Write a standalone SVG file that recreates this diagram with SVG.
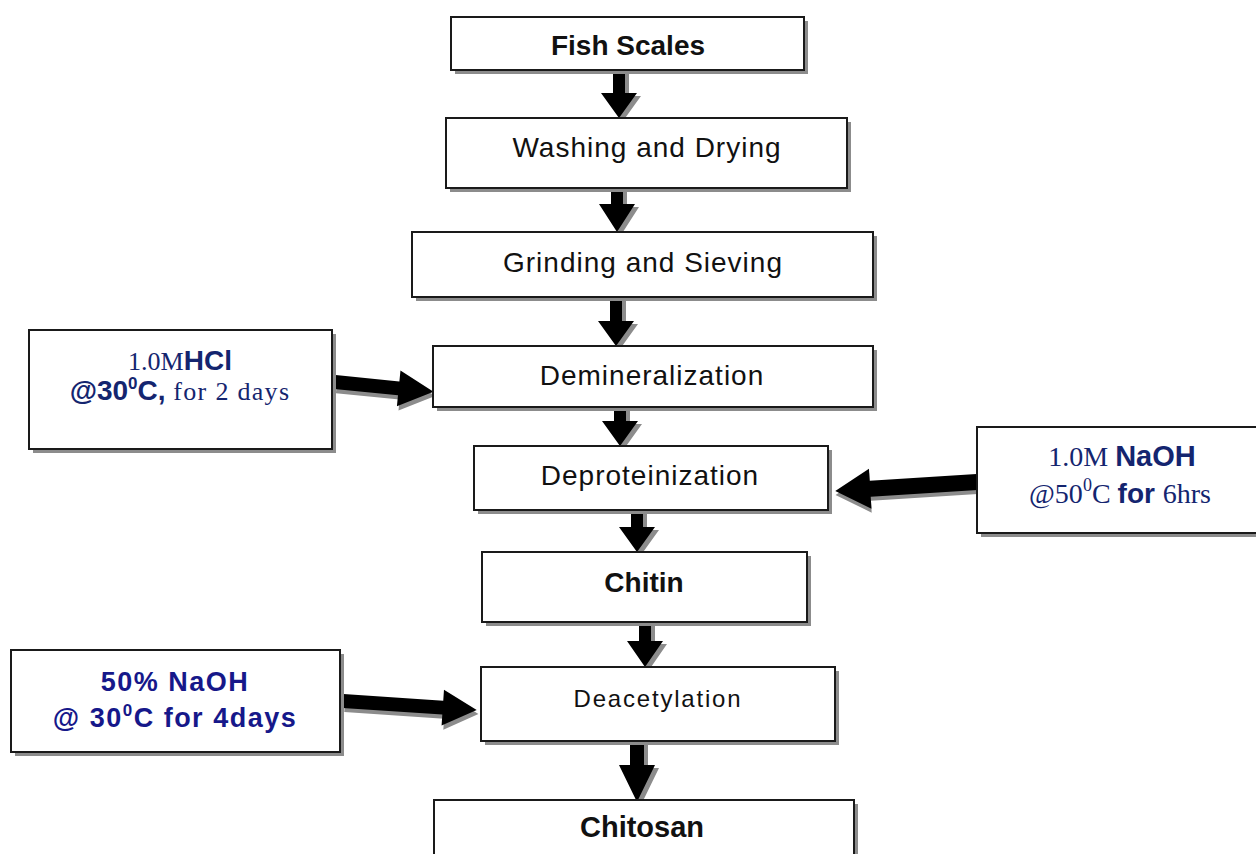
<svg xmlns="http://www.w3.org/2000/svg" width="1256" height="854" viewBox="0 0 1256 854">
<style>
.sh{fill:#8c8c8c}
.bx{fill:#fff;stroke:#1a1a1a;stroke-width:2}
.t{font-family:"Liberation Sans",Arial,sans-serif;font-size:28px;fill:#111;text-anchor:middle;letter-spacing:1px}
.b{font-weight:bold;letter-spacing:0}
.ar{fill:#000}
.as{fill:#8c8c8c}
.nv{fill:#14256f}
.nv2{fill:#16188a}
.sf{font-family:"Liberation Serif","Times New Roman",serif;font-weight:normal}
.ss{font-family:"Liberation Sans",Arial,sans-serif;font-weight:bold}
</style>
<rect width="1256" height="854" fill="#fff"/>
<g id="connectors">
  <g transform="translate(4,3)" class="as">
    <path d="M613,70 H625 V93 H637 L619,118 L601,93 H613 Z"/>
    <path d="M611,188 H623 V204 H635 L617,232 L599,204 H611 Z"/>
    <path d="M610,297 H622 V321 H634 L616,346 L598,321 H610 Z"/>
    <path d="M614,407 H626 V421 H638 L620,446 L602,421 H614 Z"/>
    <path d="M631,510 H643 V527 H655 L637,552 L619,527 H631 Z"/>
    <path d="M639,622 H651 V641 H663 L645,667 L627,641 H639 Z"/>
    <path d="M630,741 H644 V765 H655 L637,802 L619,765 H630 Z"/>
  </g>
  <g class="ar">
    <path d="M613,70 H625 V93 H637 L619,118 L601,93 H613 Z"/>
    <path d="M611,188 H623 V204 H635 L617,232 L599,204 H611 Z"/>
    <path d="M610,297 H622 V321 H634 L616,346 L598,321 H610 Z"/>
    <path d="M614,407 H626 V421 H638 L620,446 L602,421 H614 Z"/>
    <path d="M631,510 H643 V527 H655 L637,552 L619,527 H631 Z"/>
    <path d="M639,622 H651 V641 H663 L645,667 L627,641 H639 Z"/>
    <path d="M630,741 H644 V765 H655 L637,802 L619,765 H630 Z"/>
  </g>
  <g transform="translate(335,382) rotate(5.7)">
    <path class="as" transform="translate(2,4)" d="M0,-7 H64 V-18 L99,0 L64,18 V7 H0 Z"/>
    <path class="ar" d="M0,-7 H64 V-18 L99,0 L64,18 V7 H0 Z"/>
  </g>
  <g transform="translate(977,482) rotate(176.4)">
    <path class="as" transform="translate(0,-4)" d="M0,-8 H107 V-20 L142,0 L107,20 V8 H0 Z"/>
    <path class="ar" d="M0,-8 H107 V-20 L142,0 L107,20 V8 H0 Z"/>
  </g>
  <g transform="translate(343,701) rotate(3.8)">
    <path class="as" transform="translate(2,4)" d="M0,-7 H100 V-18 L134,0 L100,18 V7 H0 Z"/>
    <path class="ar" d="M0,-7 H100 V-18 L134,0 L100,18 V7 H0 Z"/>
  </g>
</g>
<g id="fish-scales">
  <rect class="sh" x="455" y="21" width="353" height="53"/>
  <rect class="bx" x="451" y="17" width="353" height="53"/>
  <text class="t b" x="628" y="55">Fish Scales</text>
</g>
<g id="washing">
  <rect class="sh" x="450" y="122" width="401" height="70"/>
  <rect class="bx" x="446" y="118" width="401" height="70"/>
  <text class="t" x="647" y="157">Washing and Drying</text>
</g>
<g id="grinding">
  <rect class="sh" x="416" y="236" width="461" height="65"/>
  <rect class="bx" x="412" y="232" width="461" height="65"/>
  <text class="t" x="643" y="272">Grinding and Sieving</text>
</g>
<g id="demineralization">
  <rect class="sh" x="437" y="350" width="440" height="61"/>
  <rect class="bx" x="433" y="346" width="440" height="61"/>
  <text class="t" x="652" y="385">Demineralization</text>
</g>
<g id="deproteinization">
  <rect class="sh" x="478" y="450" width="354" height="64"/>
  <rect class="bx" x="474" y="446" width="354" height="64"/>
  <text class="t" x="650" y="485">Deproteinization</text>
</g>
<g id="chitin">
  <rect class="sh" x="486" y="556" width="325" height="70"/>
  <rect class="bx" x="482" y="552" width="325" height="70"/>
  <text class="t b" x="644" y="592">Chitin</text>
</g>
<g id="deacetylation">
  <rect class="sh" x="485" y="671" width="354" height="74"/>
  <rect class="bx" x="481" y="667" width="354" height="74"/>
  <text class="t" x="658" y="707" style="font-size:24px;letter-spacing:1.8px">Deacetylation</text>
</g>
<g id="chitosan">
  <rect class="sh" x="438" y="804" width="420" height="60"/>
  <rect class="bx" x="434" y="800" width="420" height="60"/>
  <text class="t b" x="642" y="837" style="font-size:29px">Chitosan</text>
</g>
<g id="hcl-condition">
  <rect class="sh" x="33" y="334" width="303" height="119"/>
  <rect class="bx" x="29" y="330" width="303" height="119"/>
  <text class="t nv" x="180" y="370" style="letter-spacing:0"><tspan class="sf" style="font-size:26px">1.0M</tspan><tspan class="ss" style="font-size:28px">HCl</tspan></text>
  <text class="t nv" x="180" y="400" style="letter-spacing:0"><tspan class="ss" style="font-size:28px">@30</tspan><tspan class="ss" style="font-size:17px" dy="-11">0</tspan><tspan class="ss" style="font-size:28px" dy="11">C,</tspan><tspan class="sf" style="font-size:26px;letter-spacing:1.3px"> for 2 days</tspan></text>
</g>
<g id="naoh-condition">
  <rect class="sh" x="981" y="431" width="290" height="106"/>
  <rect class="bx" x="977" y="427" width="290" height="106"/>
  <text class="t nv" x="1122" y="466" style="letter-spacing:0"><tspan class="sf" style="font-size:28px">1.0M </tspan><tspan class="ss" style="font-size:29px">NaOH</tspan></text>
  <text class="t nv" x="1120" y="503" style="letter-spacing:0"><tspan class="sf" style="font-size:28px">@50</tspan><tspan class="sf" style="font-size:18px" dy="-12">0</tspan><tspan class="sf" style="font-size:28px" dy="12">C </tspan><tspan class="ss" style="font-size:28px">for </tspan><tspan class="sf" style="font-size:28px">6hrs</tspan></text>
</g>
<g id="deacetylation-condition">
  <rect class="sh" x="15" y="654" width="329" height="102"/>
  <rect class="bx" x="11" y="650" width="329" height="102"/>
  <text class="t b nv2" x="175" y="691" style="font-size:27px;letter-spacing:1.5px">50% NaOH</text>
  <text class="t b nv2" x="175" y="727" style="font-size:27px;letter-spacing:1.5px">@ 30<tspan style="font-size:17px" dy="-11">0</tspan><tspan dy="11">C for 4days</tspan></text>
</g>
</svg>
